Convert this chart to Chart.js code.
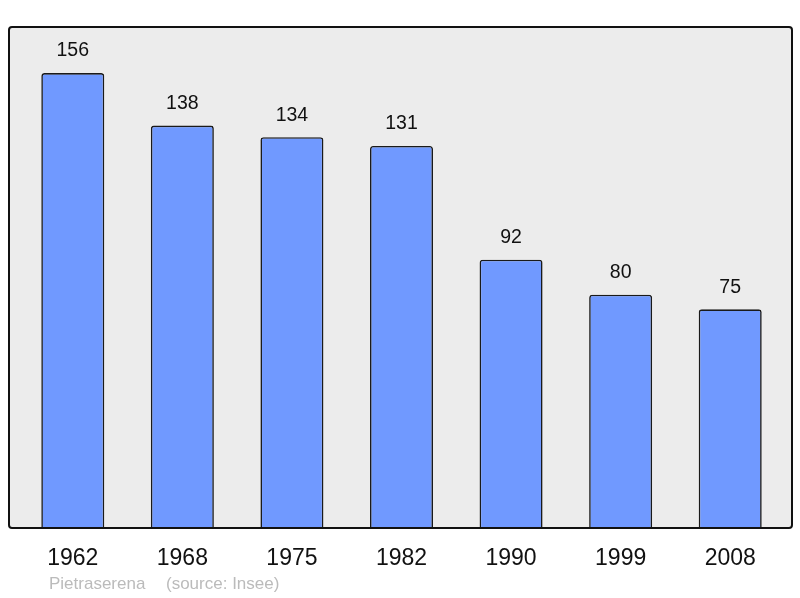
<!DOCTYPE html>
<html>
<head>
<meta charset="utf-8">
<script src="https://cdn.jsdelivr.net/npm/chart.js@4/dist/chart.umd.min.js"></script>
<style>
  html, body { margin: 0; padding: 0; background: #ffffff; }
  #wrap { width: 800px; height: 598px; position: relative; }
</style>
</head>
<body>
<div id="wrap"><canvas id="pop"></canvas></div>
<script>
const annees = ['1962', '1968', '1975', '1982', '1990', '1999', '2008'];
const habitants = [156, 138, 134, 131, 92, 80, 75];
const yMax = 171.8;
const commune = 'Pietraserena';
const source = '(source: Insee)';

// cadre gris + etiquettes de valeurs
const cadrePlugin = {
  id: 'cadre',
  beforeDatasetsDraw (chart) {
    const ctx = chart.ctx;
    ctx.save();
    ctx.beginPath();
    ctx.roundRect(9, 27, 783, 501, 3);
    ctx.fillStyle = '#ececec';
    ctx.fill();
    ctx.restore();
  },
  afterDatasetsDraw (chart) {
    const ctx = chart.ctx;
    ctx.save();
    ctx.beginPath();
    ctx.roundRect(9, 27, 783, 501, 3);
    ctx.lineWidth = 2;
    ctx.strokeStyle = '#111111';
    ctx.stroke();

    const meta = chart.getDatasetMeta(0);
    ctx.fillStyle = '#111111';
    ctx.font = '19.5px "Liberation Sans", Arial, sans-serif';
    ctx.textAlign = 'center';
    ctx.textBaseline = 'middle';
    meta.data.forEach((bar, i) => {
      ctx.fillText(habitants[i], bar.x, bar.y - 22);
    });

    ctx.fillStyle = '#bbbbbb';
    ctx.font = '17px "Liberation Sans", Arial, sans-serif';
    ctx.textAlign = 'left';
    ctx.fillText(commune, 49, 584);
    ctx.fillText(source, 166, 584);
    ctx.restore();
  }
};

new Chart(document.getElementById('pop'), {
  type: 'bar',
  data: {
    labels: annees,
    datasets: [{
      data: habitants,
      backgroundColor: '#7099ff',
      borderColor: '#1a1a1a',
      borderWidth: 1.6,
      borderRadius: 3,
      borderSkipped: 'bottom',
      barPercentage: 0.575,
      categoryPercentage: 1
    }]
  },
  options: {
    responsive: true,
    maintainAspectRatio: false,
    animation: false,
    layout: { padding: { left: 18, right: 15, top: 27, bottom: 8.4 } },
    plugins: {
      legend: { display: false },
      tooltip: { enabled: false }
    },
    scales: {
      x: {
        grid: { display: false, drawTicks: false },
        border: { display: false },
        ticks: {
          padding: 17,
          color: '#111111',
          font: { size: 23, family: '"Liberation Sans", Arial, sans-serif' }
        }
      },
      y: {
        display: false,
        min: 0,
        max: yMax
      }
    }
  },
  plugins: [cadrePlugin]
});
</script>
</body>
</html>
